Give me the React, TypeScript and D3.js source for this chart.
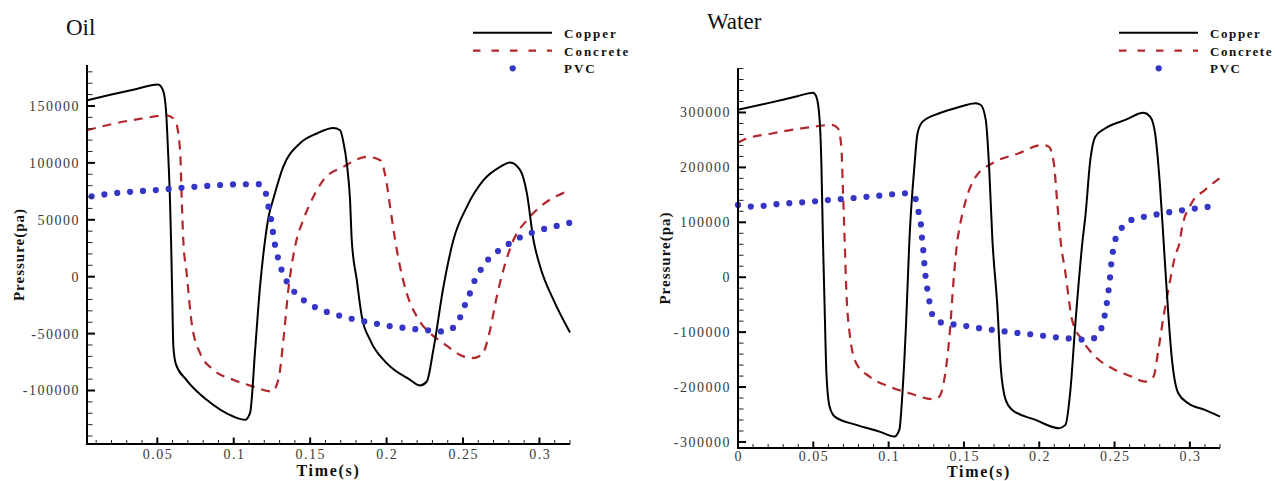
import React from "react";
import * as d3 from "d3";

type Pt = [number, number];

// ---------------- Oil panel data (time s, pressure pa) ----------------
const oilCopper: Pt[] = [
  [0.004, 155000], [0.02, 160000], [0.035, 164500], [0.0505, 168800], [0.0537, 163800],
  [0.0557, 146000], [0.057, 111000], [0.0583, 67000], [0.059, 32000], [0.0598, -20000],
  [0.0605, -61400], [0.0622, -77000], [0.069, -90600], [0.0823, -108200], [0.0997, -122800],
  [0.1074, -125700], [0.1107, -119600], [0.114, -64300], [0.117, -11700], [0.1205, 32200],
  [0.123, 54000], [0.1257, 67300], [0.1323, 96200], [0.1434, 117300], [0.1543, 125800],
  [0.1652, 130700], [0.1696, 128700], [0.1715, 119900], [0.1741, 98000], [0.1761, 67300],
  [0.1772, 32200], [0.1805, -2900], [0.1838, -35100], [0.1892, -55500], [0.2001, -76000],
  [0.2154, -90600], [0.2219, -95600], [0.2263, -92100], [0.2306, -64300], [0.2372, -8800],
  [0.2437, 32200], [0.2525, 61400], [0.2634, 84800], [0.2743, 96500], [0.2808, 100400],
  [0.2874, 93600], [0.2918, 73200], [0.2961, 32200], [0.3005, 8800], [0.3092, -20400],
  [0.32, -49000],
];
const oilConcrete: Pt[] = [
  [0.004, 128700], [0.02, 134000], [0.04, 139000], [0.0562, 141800], [0.0616, 137500],
  [0.0649, 111100], [0.066, 67300], [0.067, 32200], [0.0692, 3000], [0.0725, -40900],
  [0.078, -67200], [0.0867, -81800], [0.0997, -90600], [0.1128, -96500], [0.1249, -100900],
  [0.1292, -90600], [0.1325, -55500], [0.1357, -11700], [0.1401, 26300], [0.1455, 50000],
  [0.15, 64400], [0.1586, 84800], [0.1717, 96500], [0.187, 105300], [0.1958, 102400],
  [0.2001, 81900], [0.2023, 61400], [0.2056, 32200], [0.2088, 8800], [0.2132, -14600],
  [0.2198, -35100], [0.2285, -49700], [0.2372, -58400], [0.2481, -68700], [0.2558, -71600],
  [0.2623, -68700], [0.2677, -46800], [0.2721, -17500], [0.2764, 5900], [0.283, 32200],
  [0.2918, 49700], [0.3005, 61400], [0.32, 76000],
];
const oilPVC: Pt[] = [
  [0.004, 70000], [0.0153, 72300], [0.0323, 74600], [0.0491, 76100], [0.066, 78100],
  [0.083, 79800], [0.1, 81100], [0.117, 81300], [0.121, 73200], [0.1222, 64400],
  [0.1238, 55600], [0.1249, 46200], [0.1259, 37200], [0.127, 27800], [0.1285, 19000],
  [0.1303, 10300], [0.1325, 1500], [0.1357, -6400], [0.1401, -14000], [0.1455, -20400],
  [0.1521, -26000], [0.1598, -30400], [0.1674, -33600], [0.1757, -36500], [0.1838, -38900],
  [0.1918, -40900], [0.2001, -43000], [0.2084, -44400], [0.2169, -45900], [0.2252, -46800],
  [0.2335, -48200], [0.2416, -46800], [0.2463, -39500], [0.2496, -31600], [0.2518, -22800],
  [0.2547, -14000], [0.2568, -5800], [0.2601, 2400], [0.2634, 10300], [0.2684, 17500],
  [0.2738, 23400], [0.2804, 29200], [0.2874, 34600], [0.295, 38600], [0.3026, 41800],
  [0.3109, 44500], [0.32, 47400],
];

// ---------------- Water panel data ----------------
const waterCopper: Pt[] = [
  [0, 305000], [0.02, 317000], [0.04, 330000], [0.0498, 336100], [0.052, 328800],
  [0.0542, 286400], [0.0554, 201400], [0.0564, 67900], [0.0575, -53500], [0.0587, -174800],
  [0.0608, -235600], [0.0642, -253800], [0.0785, -268900], [0.0939, -281100], [0.1038, -290200],
  [0.1071, -278000], [0.1093, -205200], [0.1116, -83700], [0.1138, 67900], [0.1171, 201400],
  [0.1192, 262200], [0.1226, 283300], [0.1336, 298600], [0.1468, 310000], [0.1579, 316800],
  [0.1612, 313700], [0.1645, 286400], [0.1667, 201400], [0.1689, 67900], [0.1722, -53500],
  [0.1744, -162700], [0.1777, -223400], [0.1821, -241600], [0.1976, -259800], [0.213, -274900],
  [0.2174, -268900], [0.2207, -205200], [0.224, -83700], [0.2288, 67900], [0.2306, 110300],
  [0.2339, 213500], [0.2372, 256000], [0.2439, 271300], [0.2571, 286400], [0.2692, 299700],
  [0.2736, 292400], [0.2769, 262200], [0.2802, 164900], [0.2825, 67900], [0.2846, -23100],
  [0.2879, -144500], [0.2923, -211200], [0.2989, -229400], [0.31, -241600], [0.32, -254000],
];
const waterConcrete: Pt[] = [
  [0, 245000], [0.0035, 250000], [0.0233, 262200], [0.0454, 272300], [0.062, 277300],
  [0.0663, 271300], [0.0686, 237800], [0.0696, 164900], [0.0708, 67900], [0.0719, -23100],
  [0.0741, -101900], [0.0785, -156600], [0.0873, -181000], [0.1005, -199200], [0.1138, -211200],
  [0.1292, -222100], [0.1336, -217400], [0.1369, -187000], [0.1402, -114100], [0.1435, 7300],
  [0.1457, 67900], [0.1468, 86100], [0.1513, 140700], [0.1579, 183100], [0.1689, 207500],
  [0.1865, 225700], [0.2019, 240800], [0.2063, 237800], [0.2097, 207500], [0.2118, 140700],
  [0.2141, 67900], [0.2174, 7300], [0.2218, -77700], [0.2284, -114100], [0.2372, -144500],
  [0.2505, -168800], [0.2614, -181000], [0.2703, -190100], [0.2758, -181000], [0.2791, -132400],
  [0.2825, -71700], [0.2857, -23100], [0.2901, 37500], [0.2935, 67900], [0.2945, 86100],
  [0.3011, 134700], [0.31, 158900], [0.32, 181000],
];
const waterPVC: Pt[] = [
  [0, 131600], [0.0101, 128500], [0.0267, 133400], [0.0432, 136500], [0.0608, 140700],
  [0.0774, 144400], [0.0944, 148600], [0.1116, 152900], [0.1177, 143800], [0.1192, 125600],
  [0.1208, 107400], [0.1217, 89200], [0.1222, 71000], [0.1226, 67900], [0.123, 49700],
  [0.1235, 31500], [0.1241, 13300], [0.1248, -6000], [0.1259, -24900], [0.127, -43100],
  [0.1283, -61300], [0.131, -77700], [0.1391, -85000], [0.1473, -86800], [0.1556, -91000],
  [0.164, -94100], [0.1726, -97200], [0.181, -100100], [0.1898, -102700], [0.1982, -105000],
  [0.2068, -108100], [0.2151, -110500], [0.2235, -112300], [0.2321, -114100], [0.239, -106300],
  [0.2416, -89900], [0.2434, -70500], [0.2447, -50400], [0.2456, -32200], [0.2465, -12700],
  [0.2472, 5500], [0.2478, 24200], [0.2487, 42400], [0.2495, 60600], [0.2531, 80100],
  [0.2564, 97000], [0.2632, 106100], [0.2714, 111000], [0.2798, 115200], [0.2884, 119400],
  [0.2968, 122500], [0.3049, 125600], [0.3137, 128500], [0.32, 130000],
];

// ---------------- Ticks / labels ----------------
const oilYMajor = [-100000, -50000, 0, 50000, 100000, 150000];
const oilXMajor = [0.05, 0.1, 0.15, 0.2, 0.25, 0.3];
const waterYMajor = [-300000, -200000, -100000, 0, 100000, 200000, 300000];
const waterXMajor = [0, 0.05, 0.1, 0.15, 0.2, 0.25, 0.3];
const seriesNames = ["Copper", "Concrete", "PVC"];

const SERIF = "'Liberation Serif', 'Times New Roman', serif";
const RED = "#b3262b";
const BLUE = "#3535c6";

type PanelProps = {
  title: string;
  titleX: number;
  titleY: number;
  xDomain: [number, number];
  xRange: [number, number];
  yDomain: [number, number];
  yRange: [number, number];
  xMajor: number[];
  yMajor: number[];
  xMinorStep: number;
  yMinorStep: number;
  xLabelY: number;
  xTitleY: number;
  yTitleX: number;
  copper: Pt[];
  concrete: Pt[];
  pvc: Pt[];
  pvcOffset: number;
  legendX: number;
  legendSpacing: number;
};

function Panel(p: PanelProps) {
  const x = d3.scaleLinear().domain(p.xDomain).range(p.xRange);
  const y = d3.scaleLinear().domain(p.yDomain).range(p.yRange);
  const line = d3
    .line<Pt>()
    .x((d) => x(d[0]))
    .y((d) => y(d[1]))
    .curve(d3.curveMonotoneX);

  const eps = 1e-9;
  const xMinor = d3
    .range(Math.ceil(p.xDomain[0] / p.xMinorStep - eps) * p.xMinorStep, p.xDomain[1] + eps, p.xMinorStep)
    .filter((v) => !p.xMajor.some((m) => Math.abs(m - v) < 1e-6));
  const yMinor = d3
    .range(Math.ceil(p.yDomain[0] / p.yMinorStep - eps) * p.yMinorStep, p.yDomain[1] + eps, p.yMinorStep)
    .filter((v) => !p.yMajor.some((m) => Math.abs(m - v) < 1e-6));

  const x0 = p.xRange[0];
  const x1 = p.xRange[1];
  const yb = p.yRange[0];
  const yt = p.yRange[1];
  const cx = (x0 + x1) / 2;
  const cy = (yb + yt) / 2;
  const lx = p.legendX;

  return (
    <g>
      <text x={p.titleX} y={p.titleY} fontFamily={SERIF} fontSize={23} fill="#111">
        {p.title}
      </text>

      {/* curves */}
      <path d={line(p.concrete) || ""} fill="none" stroke={RED} strokeWidth={2.2} strokeDasharray="9 7" />
      <path d={line(p.copper) || ""} fill="none" stroke="#000" strokeWidth={2} />
      <path
        d={line(p.pvc) || ""}
        fill="none"
        stroke={BLUE}
        strokeWidth={6.2}
        strokeLinecap="round"
        strokeDasharray="0 12.9"
        strokeDashoffset={p.pvcOffset}
      />

      {/* axes */}
      <line x1={x0} x2={x0} y1={yb + 1} y2={yt} stroke="#000" strokeWidth={2} />
      <line x1={x0 - 1} x2={x1} y1={yb} y2={yb} stroke="#000" strokeWidth={2.2} />
      {yMinor.map((v) => (
        <line key={"ym" + v} x1={x0} x2={x0 + 5.5} y1={y(v)} y2={y(v)} stroke="#222" strokeWidth={1} />
      ))}
      {p.yMajor.map((v) => (
        <g key={"yM" + v}>
          <line x1={x0} x2={x0 + 8} y1={y(v)} y2={y(v)} stroke="#000" strokeWidth={2} />
          <text
            x={x0 - 7}
            y={y(v)}
            dy="0.35em"
            textAnchor="end"
            fontFamily={SERIF}
            fontSize={14}
            letterSpacing={1.5}
            fill="#3a3a3a"
          >
            {String(v)}
          </text>
        </g>
      ))}
      {xMinor.map((v) => (
        <line key={"xm" + v} x1={x(v)} x2={x(v)} y1={yb} y2={yb - 4} stroke="#222" strokeWidth={1} />
      ))}
      {p.xMajor.map((v) => (
        <g key={"xM" + v}>
          <line x1={x(v)} x2={x(v)} y1={yb} y2={yb - 6.5} stroke="#000" strokeWidth={2} />
          <text
            x={x(v) + 0.7}
            y={p.xLabelY}
            textAnchor="middle"
            fontFamily={SERIF}
            fontSize={14}
            letterSpacing={1.5}
            fill="#3a3a3a"
          >
            {String(v)}
          </text>
        </g>
      ))}
      <text
        x={cx}
        y={p.xTitleY}
        textAnchor="middle"
        fontFamily={SERIF}
        fontWeight="bold"
        fontSize={16}
        letterSpacing={1.7}
        fill="#111"
      >
        Time(s)
      </text>
      <text
        transform={`translate(${p.yTitleX},${cy}) rotate(-90)`}
        textAnchor="middle"
        fontFamily={SERIF}
        fontWeight="bold"
        fontSize={15}
        letterSpacing={1}
        fill="#111"
      >
        Pressure(pa)
      </text>

      {/* legend */}
      <line x1={lx} x2={lx + 79} y1={32.7} y2={32.7} stroke="#000" strokeWidth={2} />
      <line x1={lx} x2={lx + 79} y1={50.7} y2={50.7} stroke={RED} strokeWidth={2.2} strokeDasharray="7.5 11" />
      <circle cx={lx + 39.7} cy={68.3} r={3.1} fill={BLUE} />
      {seriesNames.map((n, i) => (
        <text
          key={n}
          x={lx + 91}
          y={38 + i * 17.6}
          fontFamily={SERIF}
          fontWeight="bold"
          fontSize={13}
          letterSpacing={p.legendSpacing}
          fill="#111"
        >
          {n}
        </text>
      ))}
    </g>
  );
}

export default function App() {
  return (
    <div style={{ position: "absolute", left: 0, top: 0 }}>
      <svg width={1275} height={481} style={{ display: "block", background: "#fff" }}>
        <Panel
          title="Oil"
          titleX={66}
          titleY={35}
          xDomain={[0.004, 0.32]}
          xRange={[87, 570]}
          yDomain={[-147000, 186000]}
          yRange={[444, 65]}
          xMajor={oilXMajor}
          yMajor={oilYMajor}
          xMinorStep={0.01}
          yMinorStep={10000}
          xLabelY={459}
          xTitleY={476}
          yTitleX={24}
          copper={oilCopper}
          concrete={oilConcrete}
          pvc={oilPVC}
          pvcOffset={8.2}
          legendX={473}
          legendSpacing={2}
        />
        <Panel
          title="Water"
          titleX={707}
          titleY={29}
          xDomain={[0, 0.32]}
          xRange={[738, 1220]}
          yDomain={[-311000, 381000]}
          yRange={[448, 68]}
          xMajor={waterXMajor}
          yMajor={waterYMajor}
          xMinorStep={0.01}
          yMinorStep={20000}
          xLabelY={461}
          xTitleY={477}
          yTitleX={670}
          copper={waterCopper}
          concrete={waterConcrete}
          pvc={waterPVC}
          pvcOffset={0}
          legendX={1119}
          legendSpacing={1.6}
        />
      </svg>
    </div>
  );
}
